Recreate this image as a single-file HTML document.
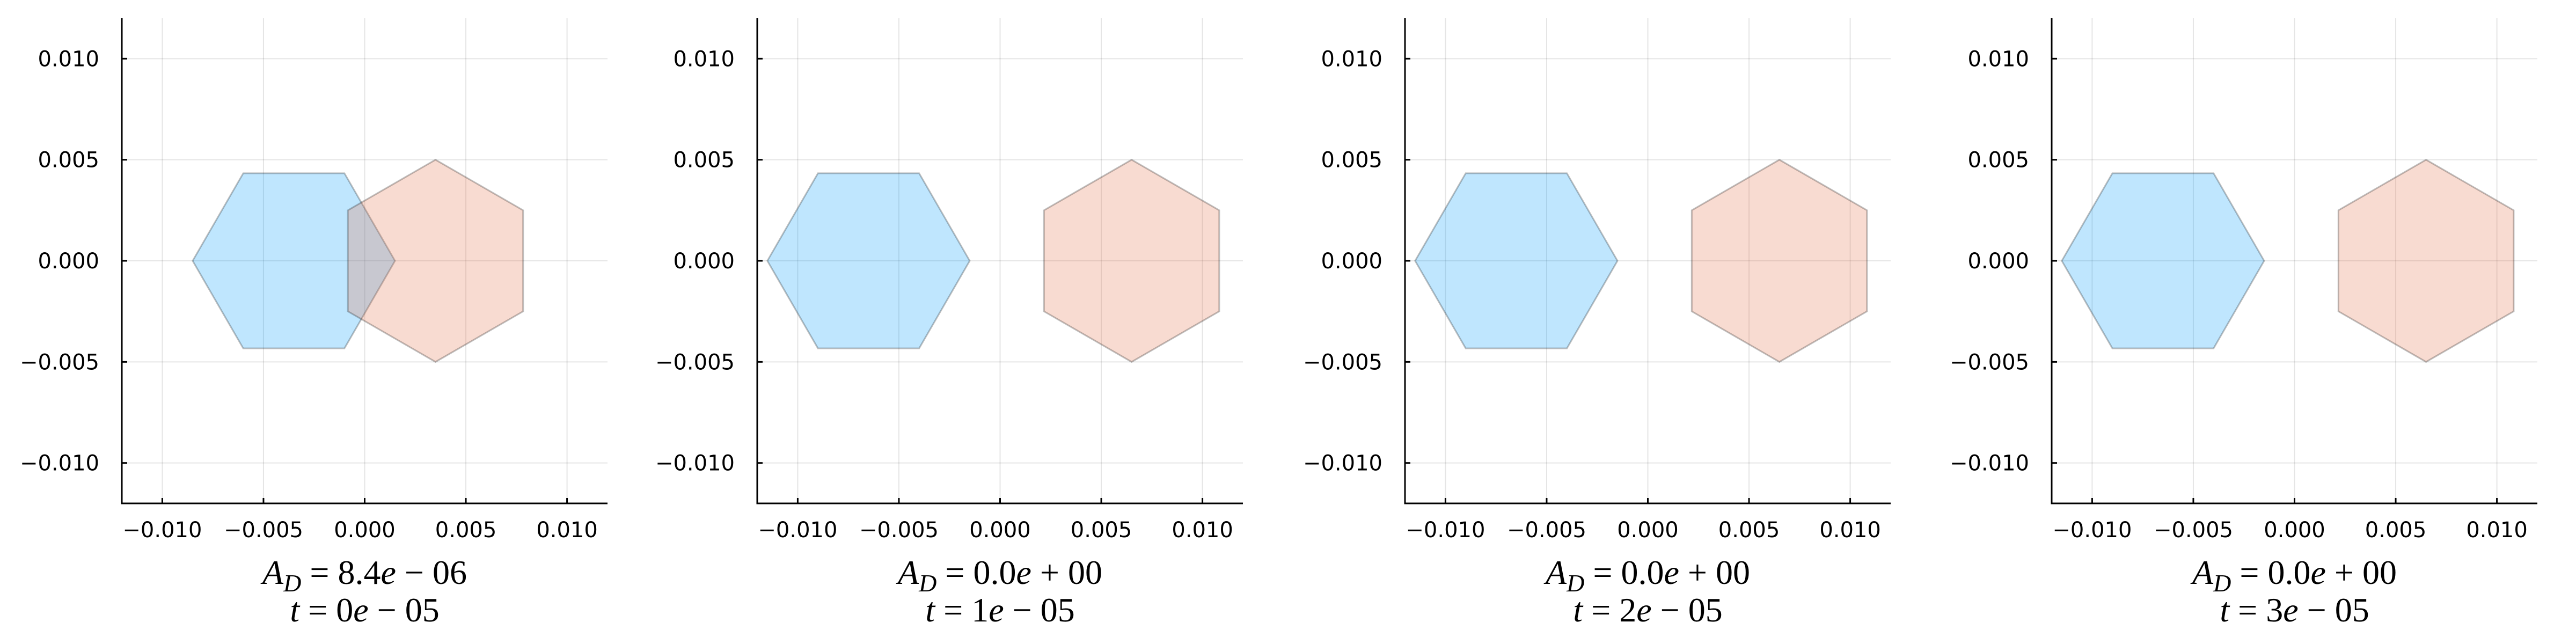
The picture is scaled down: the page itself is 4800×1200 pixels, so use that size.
<!DOCTYPE html>
<html><head><meta charset="utf-8"><style>
html,body{margin:0;padding:0;background:#fff;width:4800px;height:1200px;overflow:hidden}
svg{display:block}
.tick{font-family:"DejaVu Sans","Liberation Sans",sans-serif;font-size:40px;fill:#000}
.ttl{font-family:"Liberation Serif",serif;font-size:64px;fill:#000}
</style></head><body>
<svg id="chart" width="4800" height="1200" xmlns="http://www.w3.org/2000/svg"></svg>
<script>
// data
const panelTimes = ["0e − 05","1e − 05","2e − 05","3e − 05"];
const panelAD = ["8.4e − 06","0.0e + 00","0.0e + 00","0.0e + 00"];
const blueCenterX = [-0.0035,-0.0065,-0.0065,-0.0065];
const redCenterX = [0.0035,0.0065,0.0065,0.0065];
const hexRadius = [0.005,0.005];
const tickValues = [-0.010,-0.005,0.000,0.005,0.010];
const tickLabels = ["−0.010","−0.005","0.000","0.005","0.010"];

const NS="http://www.w3.org/2000/svg";
const svgEl=document.getElementById('chart');
const axisLeft=[227,1411,2618,3823];
const plotW=905, plotTop=34, plotH=904, lim=0.012;
function mk(tag,attrs,parent){const e=document.createElementNS(NS,tag);for(const k in attrs)e.setAttribute(k,attrs[k]);(parent||svgEl).appendChild(e);return e;}
function fmt(s){return s.replace('e','<tspan font-style="italic">e</tspan>').replace(/ ([−+]) /,'\u2005$1\u2005');}

for(let p=0;p<4;p++){
  const L=axisLeft[p];
  const sx=v=>L+(v+lim)/(2*lim)*plotW;
  const sy=v=>plotTop+(lim-v)/(2*lim)*plotH;
  const g=mk('g',{});
  
  
  tickValues.forEach((v,i)=>{
    const gx=mk('line',{x1:sx(v),x2:sx(v),y1:plotTop,y2:plotTop+plotH,stroke:'#000','stroke-opacity':0.1,'stroke-width':2},g);
    
    
    const gy=mk('line',{x1:L,x2:L+plotW,y1:sy(v),y2:sy(v),stroke:'#000','stroke-opacity':0.1,'stroke-width':2},g);
    
    
  });
  const cb=blueCenterX[p], rb=hexRadius[0];
  let pts=[];
  for(let k=0;k<6;k++){const a=k*Math.PI/3;pts.push(sx(cb+rb*Math.cos(a))+','+sy(rb*Math.sin(a)));}
  const hb=mk('polygon',{points:pts.join(' '),fill:'#009AFA','fill-opacity':0.25,stroke:'#000','stroke-opacity':0.25,'stroke-width':3},g);
  
  
  const cr=redCenterX[p], rr=hexRadius[1];
  pts=[];
  for(let k=0;k<6;k++){const a=Math.PI/2+k*Math.PI/3;pts.push(sx(cr+rr*Math.cos(a))+','+sy(rr*Math.sin(a)));}
  const hr=mk('polygon',{points:pts.join(' '),fill:'#E36F47','fill-opacity':0.25,stroke:'#000','stroke-opacity':0.25,'stroke-width':3},g);
  
  
  const ax=mk('path',{d:`M${L},${plotTop} L${L},${plotTop+plotH} L${L+plotW},${plotTop+plotH}`,fill:'none',stroke:'#000','stroke-width':3},g);
  
  
  tickValues.forEach((v,i)=>{
    mk('line',{x1:sx(v),x2:sx(v),y1:plotTop+plotH,y2:plotTop+plotH-10,stroke:'#000','stroke-width':3},g);
    mk('line',{x1:L,x2:L+10,y1:sy(v),y2:sy(v),stroke:'#000','stroke-width':3},g);
    const tx=mk('text',{x:sx(v),y:plotTop+plotH+63,'text-anchor':'middle',class:'tick'},g);
    tx.textContent=tickLabels[i];
    
    
    const ty=mk('text',{x:L-42,y:sy(v)+14,'text-anchor':'end',class:'tick'},g);
    ty.textContent=tickLabels[i];
    
    
  });
  const cx=L+plotW/2;
  const t1=mk('text',{x:cx,y:1088,'text-anchor':'middle',class:'ttl'},g);
  t1.innerHTML='<tspan font-style="italic">A</tspan><tspan font-style="italic" font-size="46" dy="14">D</tspan><tspan dy="-14">\u2005=\u2005'+fmt(panelAD[p])+'</tspan>';
  
  
  const t2=mk('text',{x:cx,y:1158,'text-anchor':'middle',class:'ttl'},g);
  t2.innerHTML='<tspan font-style="italic">t</tspan>\u2005=\u2005'+fmt(panelTimes[p]);
  
  
}
</script>
</body></html>
